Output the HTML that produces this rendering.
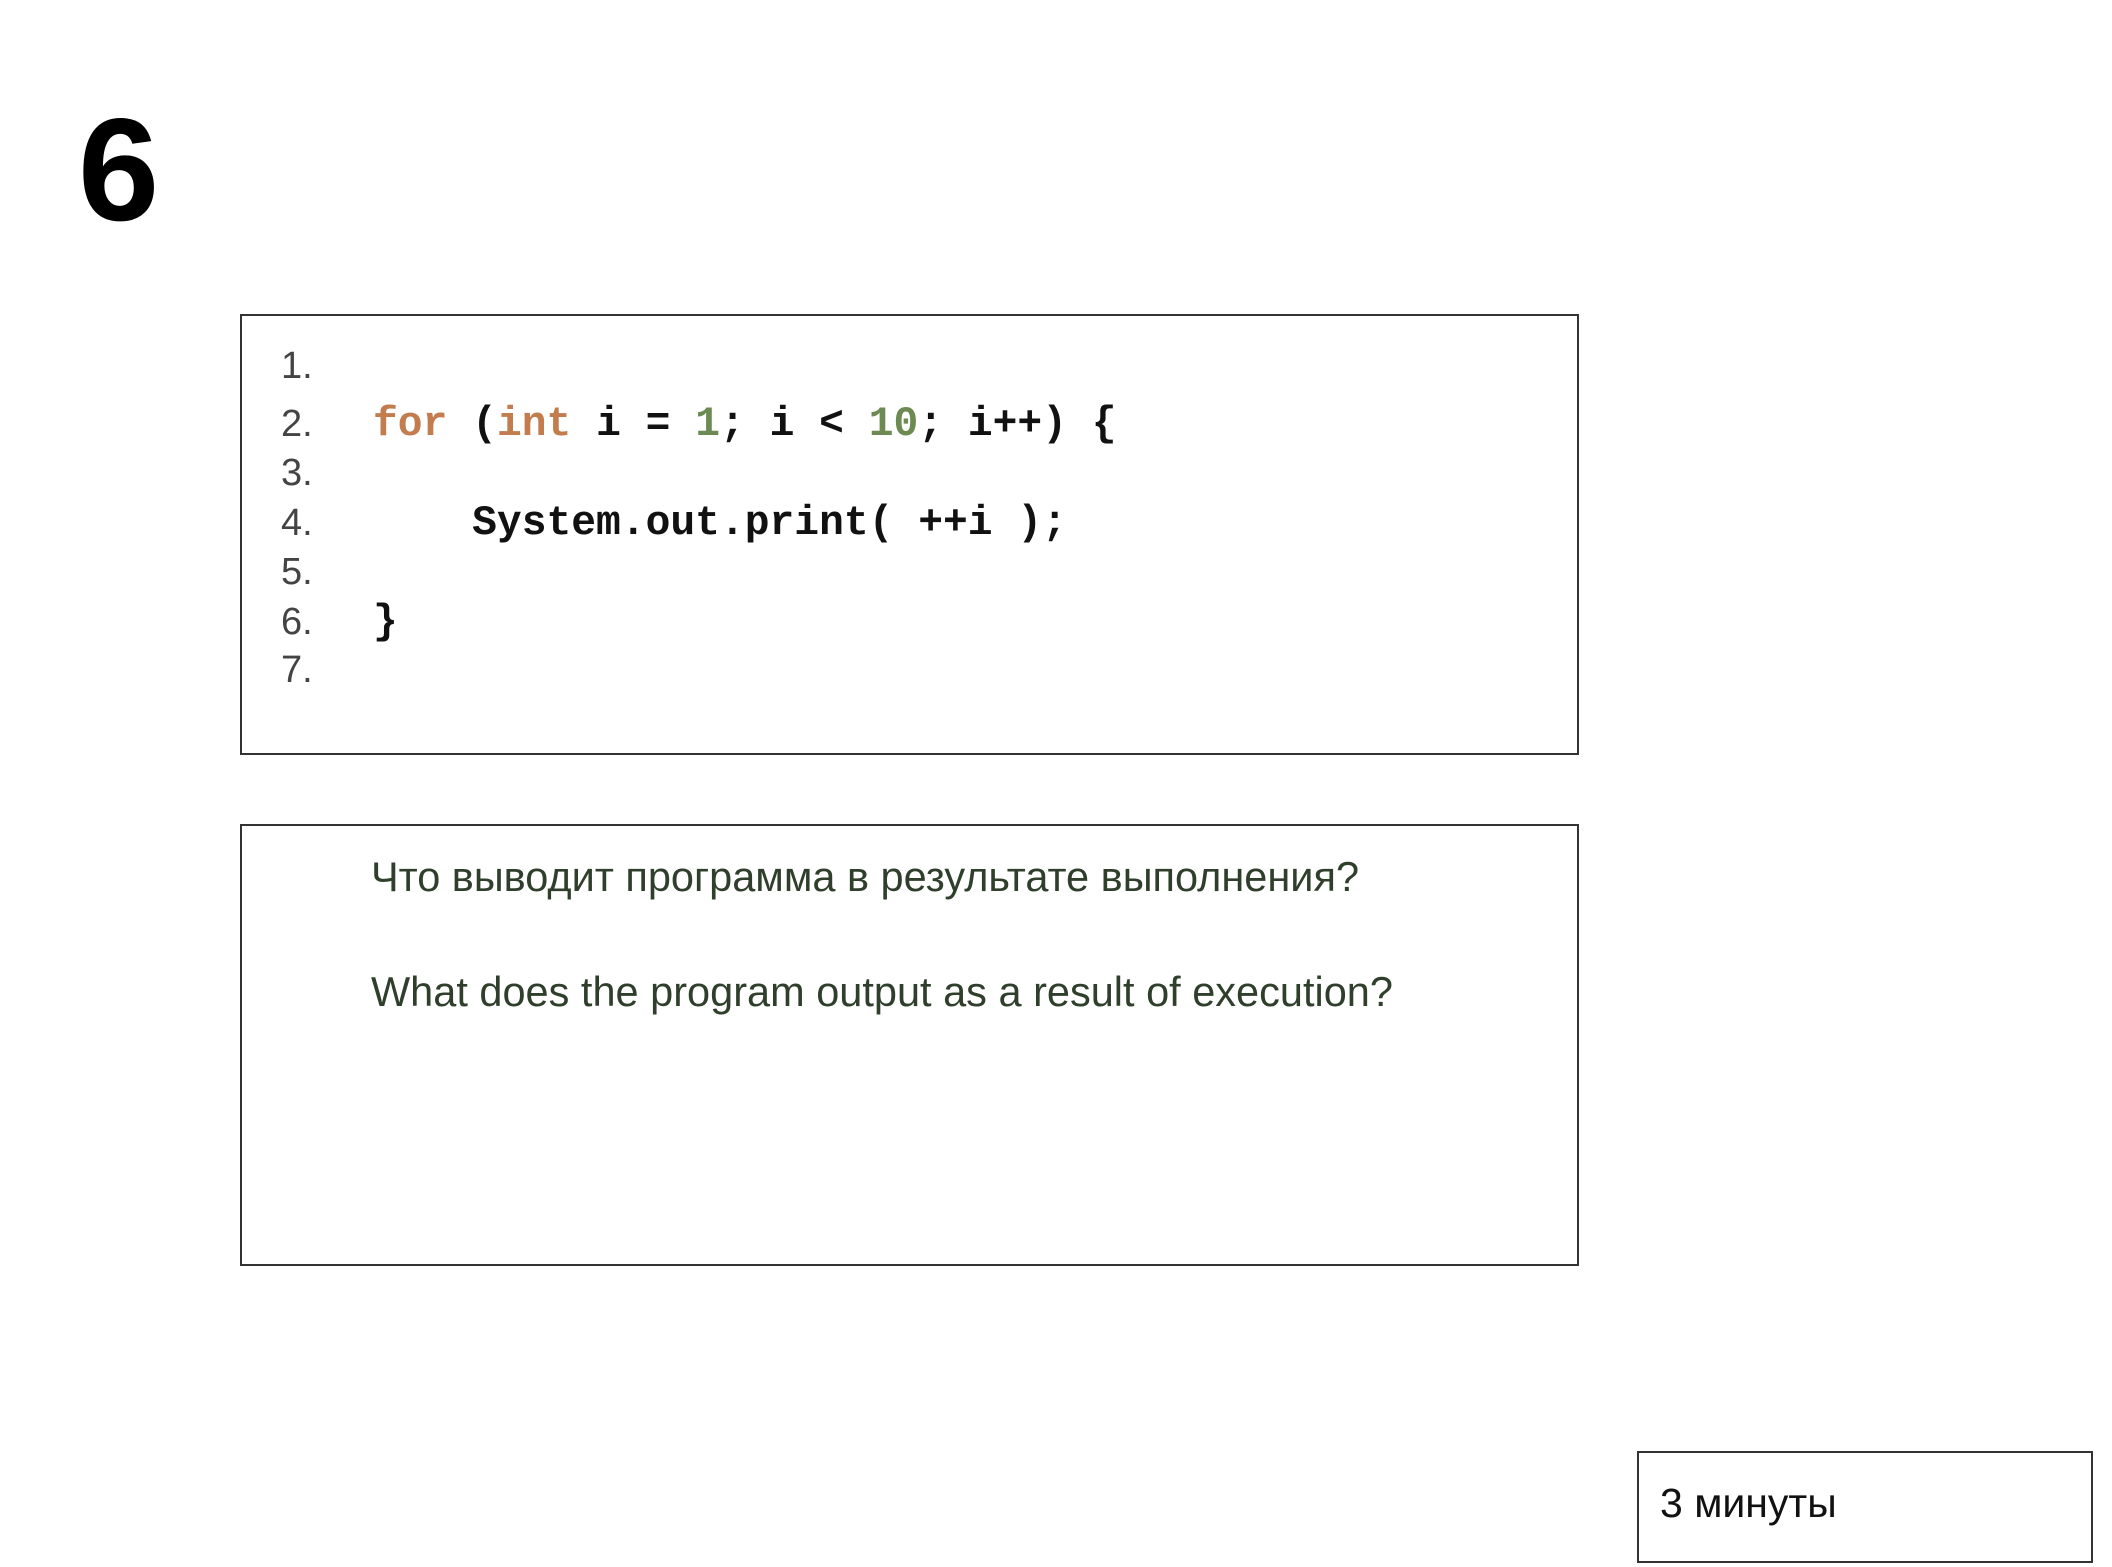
<!DOCTYPE html>
<html><head><meta charset="utf-8"><style>
html,body{margin:0;padding:0;background:#fff;}
body{width:2112px;height:1567px;position:relative;overflow:hidden;font-family:"Liberation Sans",Arial,sans-serif;}
.a{position:absolute;white-space:pre;line-height:1;}
.box{position:absolute;border:2px solid #333;box-sizing:border-box;}
.ln{position:absolute;left:281px;font-size:38px;color:#444;line-height:1;}
.code{position:absolute;left:373px;font-family:"Liberation Mono",monospace;font-weight:bold;font-size:41.3px;color:#111;line-height:1;white-space:pre;}
.k{color:#c27c4e;}
.n{color:#6d8a52;}
.q{position:absolute;left:371px;font-size:41.5px;color:#2f3f2c;line-height:1;white-space:pre;}
</style></head><body>
<div class="a" style="left:78px;top:97px;font-size:146px;font-weight:bold;color:#000;">6</div>

<div class="box" style="left:240px;top:314px;width:1339px;height:441px;"></div>
<div class="ln" style="top:347px;">1.</div>
<div class="ln" style="top:405px;">2.</div>
<div class="ln" style="top:454px;">3.</div>
<div class="ln" style="top:504px;">4.</div>
<div class="ln" style="top:553px;">5.</div>
<div class="ln" style="top:603px;">6.</div>
<div class="ln" style="top:651px;">7.</div>
<div class="code" style="top:405px;"><span class="k">for</span> (<span class="k">int</span> i = <span class="n">1</span>; i &lt; <span class="n">10</span>; i++) {</div>
<div class="code" style="top:504px;">    System.out.print( ++i );</div>
<div class="code" style="top:603px;">}</div>

<div class="box" style="left:240px;top:824px;width:1339px;height:442px;"></div>
<div class="q" style="top:856px;">Что выводит программа в результате выполнения?</div>
<div class="q" style="top:971px;">What does the program output as a result of execution?</div>

<div class="box" style="left:1637px;top:1451px;width:456px;height:112px;"></div>
<div class="a" style="left:1660px;top:1483px;font-size:41px;color:#111;">3 минуты</div>
</body></html>
